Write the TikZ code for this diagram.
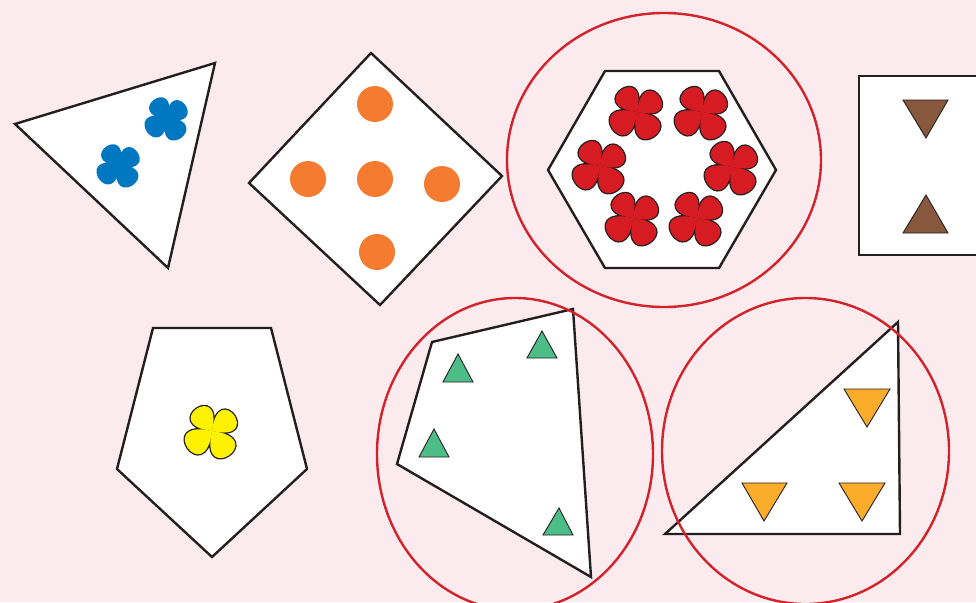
\documentclass[tikz,border=0pt]{standalone}
\definecolor{bg}{RGB}{252,235,238}
\definecolor{ink}{RGB}{35,31,32}
\definecolor{ring}{RGB}{210,35,42}
\definecolor{fblue}{RGB}{0,119,193}
\definecolor{forange}{RGB}{244,123,48}
\definecolor{fred}{RGB}{214,27,35}
\definecolor{fbrown}{RGB}{135,88,60}
\definecolor{fyellow}{RGB}{255,242,0}
\definecolor{fgreen}{RGB}{77,189,135}
\definecolor{ftri}{RGB}{250,172,42}
\tikzset{
  shapebox/.style={draw=ink,fill=white,line width=2.4pt,line join=miter},
  ringline/.style={draw=ring,line width=2.4pt},
  tri/.style={draw=ink,line width=0.9pt,line join=miter},
}
\newcommand\drawflower[5]{%
  \begin{scope}[shift={(#1,#2)},scale=#3]
    \foreach \a/\L in {235/54,325/54,145/59,55/59}
      \draw[draw=#5,line width=2.6pt] (0,0) .. controls ({\a-48}:\L) and ({\a+48}:\L) .. (0,0);
    \foreach \a/\L in {235/54,325/54,145/59,55/59}
      \fill[#4] (0,0) .. controls ({\a-48}:\L) and ({\a+48}:\L) .. (0,0);
  \end{scope}}
\begin{document}
\begin{tikzpicture}[x=1pt,y=-1pt]
\useasboundingbox (0,0) rectangle (976,602);
\clip (0,0) rectangle (976,602);
\fill[bg] (0,0) rectangle (976,602);

% triangle with blue flowers
\path[shapebox] (15,124) -- (215,63) -- (168,268) -- cycle;
\drawflower{167}{118}{0.78}{fblue}{fblue}
\drawflower{119}{165}{0.78}{fblue}{fblue}

% diamond with orange dots
\path[shapebox] (371,53) -- (502,176) -- (380,305) -- (249,183) -- cycle;
\foreach \p in {(375,104),(308,179),(375,179),(442,184),(377,252)}
  \fill[forange] \p circle[radius=18];

% hexagon with red flowers
\path[shapebox] (605,71) -- (719,71) -- (776,170) -- (719,268) -- (605,268) -- (548,170) -- cycle;
\drawflower{637}{112}{1}{fred}{ink}
\drawflower{702}{112}{1}{fred}{ink}
\drawflower{600}{166}{1}{fred}{ink}
\drawflower{732}{167}{1}{fred}{ink}
\drawflower{633}{218}{1}{fred}{ink}
\drawflower{697}{218}{1}{fred}{ink}

% square with brown triangles
\path[shapebox] (859,76) rectangle (990,255);
\path[tri,fill=fbrown] (903,100) -- (948,100) -- (926,138) -- cycle;
\path[tri,fill=fbrown] (926,195) -- (948,233) -- (903,233) -- cycle;

% pentagon with yellow flower
\path[shapebox] (153,328) -- (271,328) -- (307,469) -- (212,557) -- (117,469) -- cycle;
\drawflower{212}{431}{1}{fyellow}{ink}

% quadrilateral with green triangles
\path[shapebox] (432,342) -- (573,309) -- (591,577) -- (397,464) -- cycle;
\path[tri,fill=fgreen] (458,354) -- (473,382) -- (443,382) -- cycle;
\path[tri,fill=fgreen] (542,331) -- (557,358) -- (527,358) -- cycle;
\path[tri,fill=fgreen] (434,429) -- (449,457) -- (419,457) -- cycle;
\path[tri,fill=fgreen] (559,508) -- (573,535) -- (543,535) -- cycle;

% right triangle with orange triangles
\path[shapebox] (665,534) -- (898,322) -- (900,534) -- cycle;
\path[tri,fill=ftri] (844,389) -- (890,389) -- (867,427) -- cycle;
\path[tri,fill=ftri] (742,483) -- (787,483) -- (764,521) -- cycle;
\path[tri,fill=ftri] (839,483) -- (885,483) -- (862,521) -- cycle;

% red rings
\draw[ringline] (664,160) ellipse[x radius=157,y radius=147];
\draw[ringline] (515,454) ellipse[x radius=138,y radius=156];
\draw[ringline] (805.5,451) ellipse[x radius=143.5,y radius=153];
\end{tikzpicture}
\end{document}
